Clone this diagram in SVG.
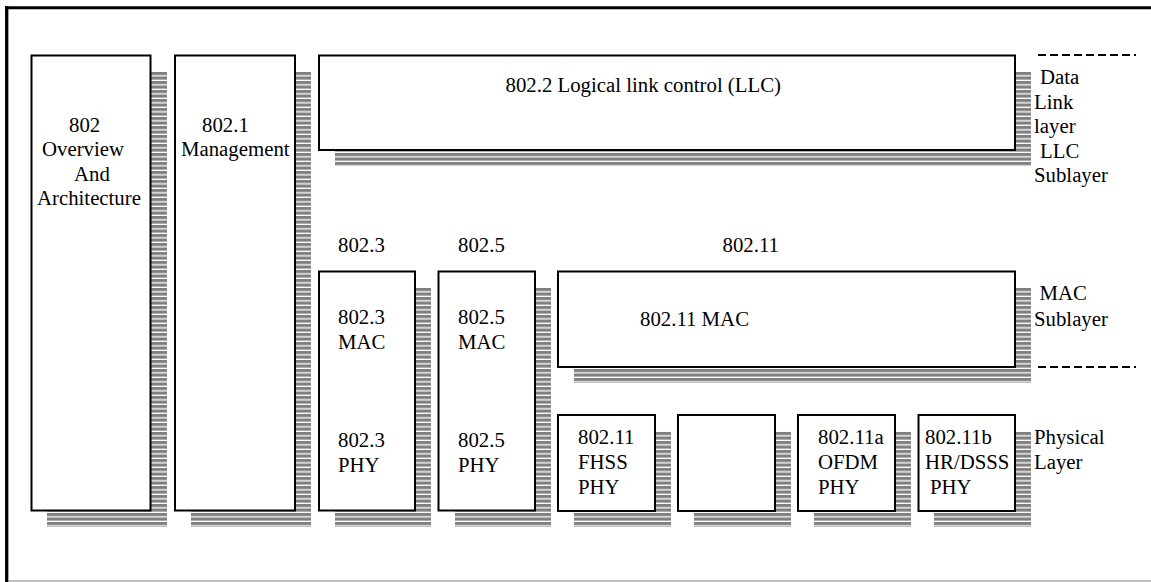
<svg xmlns="http://www.w3.org/2000/svg" width="1151" height="582" viewBox="0 0 1151 582">
<defs>
<pattern id="stripes" x="0" y="0" width="8" height="4.5" patternUnits="userSpaceOnUse">
<rect x="0" y="0" width="8" height="3.2" fill="#808080"/>
</pattern>
</defs>
<style>
.box{fill:#fff;stroke:#000;stroke-width:2}
.shadow{fill:url(#stripes);stroke:none}
text{font-size:20.8px;fill:#000}
.sep{stroke:#000;stroke-width:2;stroke-dasharray:8 4;fill:none}
</style>
<rect x="0" y="0" width="1151" height="582" fill="#fff"/>
<g id="frame">
<line x1="5" y1="7.8" x2="1151" y2="7.8" stroke="#000" stroke-width="3"/>
<line x1="6.7" y1="6.3" x2="6.7" y2="582" stroke="#000" stroke-width="3.3"/>
<line x1="8" y1="581" x2="1151" y2="581" stroke="#808080" stroke-width="1.2"/>
</g>
<g font-family="'Liberation Serif', 'DejaVu Serif', serif">
<g id="n802">
<rect class="shadow" x="47" y="72" width="120" height="455"/>
<rect class="box" x="31.5" y="55.5" width="119" height="455"/>
<text x="69" y="131.5">802</text>
<text x="42" y="156">Overview</text>
<text x="74" y="180.5">And</text>
<text x="37" y="205">Architecture</text>
</g>
<g id="n8021">
<rect class="shadow" x="191" y="72" width="120" height="455"/>
<rect class="box" x="175" y="55.5" width="120" height="455"/>
<text x="202" y="131.5">802.1</text>
<text x="181" y="156">Management</text>
</g>
<g id="n8022">
<rect class="shadow" x="335" y="72" width="696" height="94"/>
<rect class="box" x="319" y="55.5" width="696" height="94.5"/>
<text x="505.5" y="92.3">802.2 Logical link control (LLC)</text>
</g>
<g id="labels">
<text x="338" y="252.3">802.3</text>
<text x="458" y="252.3">802.5</text>
<text x="722.5" y="252.3">802.11</text>
</g>
<g id="n8023">
<rect class="shadow" x="335" y="288" width="96" height="239"/>
<rect class="box" x="319" y="271.5" width="96" height="239"/>
<text x="338" y="324">802.3</text>
<text x="338" y="349">MAC</text>
<text x="338" y="446.7">802.3</text>
<text x="338" y="471.7">PHY</text>
</g>
<g id="n8025">
<rect class="shadow" x="455" y="288" width="96" height="239"/>
<rect class="box" x="438.5" y="271.5" width="96.5" height="239"/>
<text x="458" y="324">802.5</text>
<text x="458" y="349">MAC</text>
<text x="458" y="446.7">802.5</text>
<text x="458" y="471.7">PHY</text>
</g>
<g id="n80211mac">
<rect class="shadow" x="574" y="288" width="457" height="95"/>
<rect class="box" x="558" y="271.5" width="457" height="95.5"/>
<text x="640" y="326">802.11 MAC</text>
</g>
<g id="nfhss">
<rect class="shadow" x="574" y="431" width="97" height="96"/>
<rect class="box" x="558" y="415" width="97" height="96"/>
<text x="578" y="444">802.11</text>
<text x="578" y="469">FHSS</text>
<text x="578" y="494">PHY</text>
</g>
<g id="nblank">
<rect class="shadow" x="694" y="431" width="97" height="96"/>
<rect class="box" x="678" y="415" width="97" height="96"/>
</g>
<g id="nofdm">
<rect class="shadow" x="814" y="431" width="97" height="96"/>
<rect class="box" x="798" y="415" width="97" height="96"/>
<text x="818" y="444">802.11a</text>
<text x="818" y="469">OFDM</text>
<text x="818" y="494">PHY</text>
</g>
<g id="ndsss">
<rect class="shadow" x="934" y="431" width="97" height="96"/>
<rect class="box" x="918.5" y="415" width="96.5" height="96"/>
<text x="925" y="444">802.11b</text>
<text x="925" y="469">HR/DSSS</text>
<text x="930" y="493.5">PHY</text>
</g>
<g id="layer-labels">
<text x="1040" y="84">Data</text>
<text x="1034" y="108.5">Link</text>
<text x="1034" y="133">layer</text>
<text x="1040" y="157.5">LLC</text>
<text x="1034" y="182">Sublayer</text>
<text x="1039.5" y="300">MAC</text>
<text x="1034" y="325.5">Sublayer</text>
<text x="1034" y="444">Physical</text>
<text x="1034" y="469">Layer</text>
</g>
</g>
<g id="connectors">
<line class="sep" x1="1038" y1="55" x2="1136" y2="55"/>
<line class="sep" x1="1038" y1="367" x2="1136" y2="367"/>
</g>
</svg>
